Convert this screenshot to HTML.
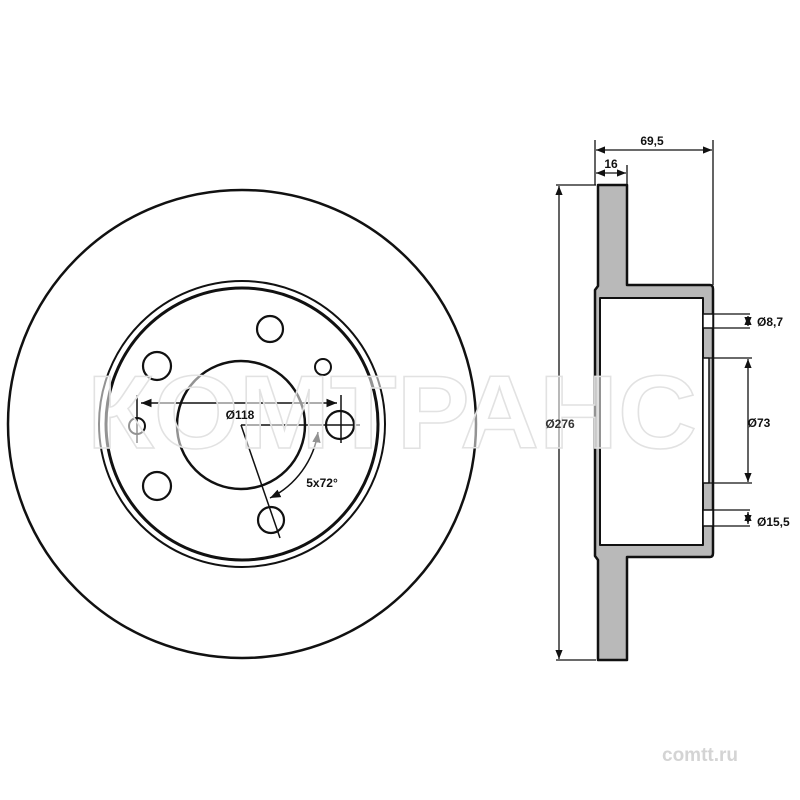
<!DOCTYPE html>
<html><head><meta charset="utf-8"><style>
html,body{margin:0;padding:0;background:#fff;}
svg{display:block;}
text{font-family:"Liberation Sans",sans-serif;}
</style></head><body>
<svg width="800" height="800" viewBox="0 0 800 800" xmlns="http://www.w3.org/2000/svg">
<defs>
<marker id="a" viewBox="0 0 10 10" refX="10" refY="5" markerWidth="7" markerHeight="7" orient="auto-start-reverse"><path d="M0,1 L10,5 L0,9 z" fill="#111"/></marker>
</defs>
<rect width="800" height="800" fill="#fff"/>
<g fill="none" stroke="#111">
<circle cx="242" cy="424" r="234" stroke-width="2.5"/>
<circle cx="242" cy="424" r="143" stroke-width="2"/>
<circle cx="242" cy="424" r="136" stroke-width="3"/>
<circle cx="241" cy="425" r="64" stroke-width="2.5"/>
<circle cx="270" cy="329" r="13" stroke-width="2.2"/>
<circle cx="157" cy="366" r="14" stroke-width="2.2"/>
<circle cx="323" cy="367" r="8" stroke-width="2"/>
<circle cx="340" cy="425" r="14" stroke-width="2.2"/>
<circle cx="137" cy="426" r="8" stroke-width="2"/>
<circle cx="157" cy="486" r="14" stroke-width="2.2"/>
<circle cx="271" cy="520" r="13" stroke-width="2.2"/>
<line x1="137" y1="395" x2="137" y2="443" stroke-width="1.5"/>
<line x1="341" y1="395" x2="341" y2="443" stroke-width="1.5"/>
<line x1="141" y1="403" x2="337" y2="403" stroke-width="1.5" marker-start="url(#a)" marker-end="url(#a)"/>
<line x1="241" y1="425" x2="360" y2="425" stroke-width="1.5"/>
<line x1="241" y1="425" x2="280" y2="538" stroke-width="1.5"/>
<path d="M318,432 A88,88 0 0 1 270,498" stroke-width="1.5" marker-start="url(#a)" marker-end="url(#a)"/>
</g>
<g stroke="#111" stroke-width="2.5" stroke-linejoin="round">
<path d="M598,185 L627,185 L627,285 L710,285 Q713,285 713,289 L713,553 Q713,557 710,557 L627,557 L627,660 L598,660 L598,560 L595,556 L595,290 L598,286 Z" fill="#b9b9b9"/>
<path d="M600,298 L703,298 L703,545 L600,545 Z" fill="#fff" stroke-width="2"/>
<rect x="703" y="314" width="10" height="14" fill="#fff" stroke-width="1.5"/>
<rect x="703" y="510" width="10" height="16" fill="#fff" stroke-width="1.5"/>
<rect x="703" y="358" width="6" height="125" fill="#fff" stroke-width="1.5"/>
</g>
<g fill="none" stroke="#111" stroke-width="1.3">
<line x1="595" y1="140" x2="595" y2="185"/>
<line x1="627" y1="165" x2="627" y2="185"/>
<line x1="713" y1="140" x2="713" y2="285"/>
<line x1="596" y1="150" x2="712" y2="150" marker-start="url(#a)" marker-end="url(#a)"/>
<line x1="596" y1="173" x2="626" y2="173" marker-start="url(#a)" marker-end="url(#a)"/>
<line x1="556" y1="185" x2="596" y2="185"/>
<line x1="556" y1="660" x2="596" y2="660"/>
<line x1="559" y1="186" x2="559" y2="659" marker-start="url(#a)" marker-end="url(#a)"/>
<line x1="713" y1="314" x2="750" y2="314"/>
<line x1="713" y1="328" x2="750" y2="328"/>
<line x1="748" y1="316" x2="748" y2="326" marker-start="url(#a)" marker-end="url(#a)"/>
<line x1="709" y1="358" x2="752" y2="358"/>
<line x1="709" y1="483" x2="752" y2="483"/>
<line x1="748" y1="359" x2="748" y2="482" marker-start="url(#a)" marker-end="url(#a)"/>
<line x1="713" y1="510" x2="750" y2="510"/>
<line x1="713" y1="526" x2="750" y2="526"/>
<line x1="748" y1="512" x2="748" y2="524" marker-start="url(#a)" marker-end="url(#a)"/>
</g>
<!-- watermark -->
<text x="392" y="448" font-size="104" font-weight="bold" text-anchor="middle" fill="#fff" fill-opacity="0.55" stroke="#e2e2e2" stroke-width="1.5" textLength="610" lengthAdjust="spacingAndGlyphs">КОМТРАНС</text>
<g font-size="12" font-weight="bold" fill="#111">
<text x="240" y="419" text-anchor="middle">Ø118</text>
<text x="322" y="487" text-anchor="middle">5x72°</text>
<text x="652" y="145" text-anchor="middle">69,5</text>
<text x="611" y="168" text-anchor="middle">16</text>
<text x="757" y="326">Ø8,7</text>
<text x="759" y="427" text-anchor="middle">Ø73</text>
<text x="757" y="526">Ø15,5</text>
<text x="560" y="428" text-anchor="middle" fill="#333">Ø276</text>
</g>
<text x="700" y="761" font-size="19" font-weight="bold" text-anchor="middle" fill="#d4d4d4">comtt.ru</text>
</svg>
</body></html>
